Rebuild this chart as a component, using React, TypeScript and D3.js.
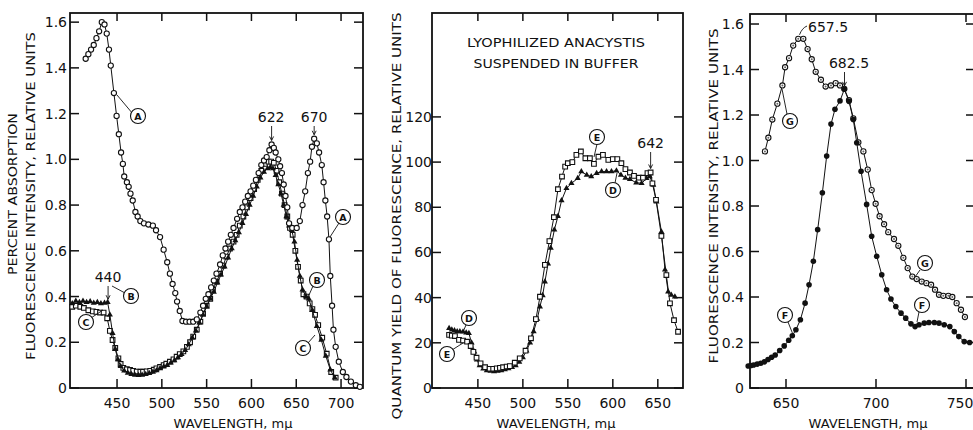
import React from 'react';
import * as d3 from 'd3';

type Pt = [number, number];

// ---- left panel: absorption (A) and fluorescence excitation (B, C) ----
const curveA: Pt[] = [
  [415, 1.44], [418, 1.46], [421, 1.48], [424, 1.5], [427, 1.53], [430, 1.56], [433, 1.6], [436, 1.59],
  [438.5, 1.55], [441, 1.48], [443, 1.41], [446.5, 1.29], [449.5, 1.19], [452, 1.11], [454.5, 1.03],
  [456.5, 0.98], [458, 0.925], [461, 0.9], [463, 0.88], [465, 0.85], [467.5, 0.82], [470.5, 0.77],
  [473, 0.75], [476, 0.73], [480, 0.72], [485, 0.715], [490, 0.71], [493.5, 0.69], [498, 0.66],
  [502, 0.605], [506, 0.55], [509, 0.5], [512, 0.455], [515, 0.415], [517, 0.378], [520, 0.337],
  [523, 0.293], [527, 0.29], [531, 0.29], [535, 0.29], [539, 0.3], [543, 0.33], [546, 0.36], [549, 0.39],
  [552, 0.41], [555, 0.44], [558, 0.47], [561, 0.5], [565, 0.54], [568, 0.58], [571, 0.61], [574, 0.64],
  [577, 0.67], [580, 0.7], [584, 0.74], [587, 0.77], [590, 0.79], [593, 0.815], [596, 0.84], [599, 0.86],
  [602, 0.885], [605, 0.91], [608, 0.94], [611, 0.975], [614, 0.995], [617, 1.01], [620, 1.04],
  [622.5, 1.065], [625, 1.05], [627, 1.03], [630, 1.0], [632, 0.97], [634, 0.94], [636, 0.89], [638, 0.84],
  [640, 0.79], [642, 0.72], [645.5, 0.7], [650.5, 0.7], [654, 0.73], [657, 0.8], [660, 0.86], [663, 0.94],
  [665.5, 0.99], [667.5, 1.055], [670, 1.09], [673, 1.07], [675.5, 1.03], [678.5, 0.975], [680.5, 0.9],
  [682.5, 0.82], [684.5, 0.75], [686.5, 0.65], [688, 0.49], [690, 0.36], [691.5, 0.255], [694, 0.18],
  [697.5, 0.115], [702, 0.07], [706, 0.048], [711, 0.028], [716.5, 0.012], [721, 0.005],
];

const curveB: Pt[] = [
  [400, 0.37], [404, 0.38], [408, 0.375], [412, 0.38], [416, 0.375], [420, 0.378], [424, 0.372],
  [428, 0.375], [432, 0.37], [436, 0.372], [439.5, 0.375], [442, 0.32], [445, 0.24], [448, 0.17],
  [451, 0.125], [454, 0.095], [458, 0.075], [462, 0.066], [466, 0.06], [470, 0.057], [474, 0.056],
  [478, 0.057], [482, 0.06], [486, 0.065], [490, 0.07], [494, 0.077], [498, 0.085], [502, 0.093],
  [506, 0.1], [510, 0.11], [514, 0.12], [518, 0.133], [522, 0.148], [526, 0.165], [530, 0.19],
  [534, 0.22], [538, 0.25], [542, 0.285], [546, 0.32], [550, 0.355], [554, 0.39], [558, 0.42],
  [562, 0.46], [566, 0.495], [570, 0.53], [574, 0.57], [578, 0.61], [582, 0.645], [586, 0.68],
  [590, 0.72], [594, 0.76], [598, 0.8], [602, 0.84], [606, 0.88], [610, 0.92], [614, 0.945],
  [618, 0.96], [621, 0.965], [624, 0.96], [627, 0.93], [630, 0.89], [633, 0.85], [636, 0.8],
  [639, 0.75], [642, 0.71], [645, 0.69], [648, 0.64], [651, 0.56], [654, 0.49], [657, 0.43],
  [661, 0.4], [664, 0.39], [668, 0.34], [673, 0.27], [678, 0.21], [683, 0.14], [688, 0.08], [693, 0.045],
];

const curveC: Pt[] = [
  [400, 0.355], [404, 0.36], [409, 0.355], [413, 0.35], [418, 0.34], [423, 0.335], [427, 0.333],
  [431, 0.33], [435, 0.33], [439, 0.305], [442, 0.25], [445, 0.21], [448, 0.175], [451.5, 0.13],
  [454, 0.105], [457, 0.088], [461, 0.082], [464.5, 0.079], [468, 0.075], [472, 0.072], [476, 0.071],
  [479, 0.071], [483, 0.073], [487, 0.075], [491, 0.08], [494, 0.086], [498, 0.092], [502, 0.1],
  [505, 0.106], [509, 0.115], [513, 0.125], [516.5, 0.137], [520, 0.148], [524, 0.16], [528, 0.18],
  [531.5, 0.2], [535, 0.225], [539, 0.255], [543, 0.29], [546, 0.325], [550, 0.36], [554, 0.39],
  [557, 0.43], [561, 0.465], [565, 0.5], [568.5, 0.535], [572, 0.575], [576, 0.61], [580, 0.64],
  [583.5, 0.67], [587, 0.71], [591, 0.75], [595, 0.79], [599, 0.83], [603, 0.87], [607, 0.91],
  [611, 0.95], [615, 0.98], [619, 0.99], [622, 0.99], [625, 0.985], [628, 0.95], [631, 0.9],
  [634, 0.85], [637, 0.8], [640, 0.75], [643, 0.7], [646, 0.67], [649, 0.6], [652, 0.53], [655, 0.47],
  [658, 0.41], [661.5, 0.4], [665, 0.37], [668, 0.345], [671, 0.32], [674.5, 0.275], [679, 0.22],
  [684, 0.15], [689, 0.07], [694, 0.045],
];

// ---- middle panel: quantum yield (D, E) ----
const curveD: Pt[] = [
  [418, 26.4], [421, 25.8], [424, 25.4], [427, 25], [430, 25], [433.5, 24.9], [437, 24.5], [440, 24.2],
  [443, 20], [446, 16], [449, 12.5], [452, 10], [456, 8.5], [460, 7.8], [464, 7.5], [468, 7.3],
  [472, 7.5], [476, 7.8], [480, 8.2], [484, 8.6], [488, 9.2], [492, 10], [496, 11.5], [500, 13.5],
  [504, 16.5], [508, 20], [512, 25], [516, 30.5], [519, 36], [522, 41], [524.5, 47], [528, 55],
  [531, 62], [535, 70], [539, 76], [543, 83], [548.5, 88.4], [554, 90.6], [561, 92.8], [565, 95.8],
  [571, 94.3], [576, 93.6], [582, 95.1], [587.5, 95.8], [593, 95.8], [598.5, 95.8], [604, 96.2],
  [609, 94.3], [614, 93], [619, 92.4], [626, 90.9], [632, 90.6], [637.5, 92.8], [641, 93.6],
  [645, 89.9], [648.5, 82.5], [654, 69.2], [658, 52.3], [661.5, 42.6], [665, 41.2], [669, 40.4],
];

const curveE: Pt[] = [
  [418, 23.5], [421, 23.2], [424.5, 23], [429, 21.3], [433.5, 21], [438, 20.5], [442, 18.6], [445, 16],
  [448.5, 13.4], [453, 10.9], [458, 9.2], [463, 8.5], [467, 8.5], [471, 8.7], [474.5, 8.9], [478, 9.2],
  [482, 9.5], [485.5, 9.7], [491, 11.2], [496.5, 13.1], [503, 16.5], [509, 22], [514.5, 30.5],
  [519, 40.4], [524.5, 54.5], [529.5, 65], [534.5, 75.6], [539, 88], [543.5, 93.6], [547, 98],
  [550, 99.5], [555, 100], [559.5, 103.2], [564.5, 104.7], [569.5, 101.7], [574.5, 101.7], [579, 99.2],
  [584, 102.4], [589, 103.2], [595, 101], [600, 101.3], [605, 101.3], [609.5, 99.5], [614, 96.9],
  [619, 95.4], [623.5, 93.9], [629, 93.1], [633.5, 93.1], [638.5, 95.1], [642, 95.4], [644, 90.6],
  [648, 83.3], [654, 67.3], [659.5, 50], [663.5, 37.5], [668, 30], [672.5, 24.9],
];

// ---- right panel: fluorescence emission (F, G) ----
const curveF: Pt[] = [
  [629, 0.097], [630.5, 0.099], [632, 0.101], [634, 0.105], [636, 0.109], [638, 0.115], [640, 0.125],
  [642, 0.135], [644, 0.145], [646.5, 0.165], [649, 0.185], [651.5, 0.21], [653.5, 0.23], [655.5, 0.256],
  [658, 0.3], [660.6, 0.373], [662.8, 0.454], [665.2, 0.557], [667.6, 0.696], [670.2, 0.858],
  [672.6, 1.02], [675, 1.16], [677.2, 1.225], [680, 1.262], [682.4, 1.313], [685, 1.26], [687.4, 1.18],
  [689.3, 1.078], [691.7, 0.953], [694.8, 0.807], [697.6, 0.667], [700.4, 0.579], [703.2, 0.498],
  [705.9, 0.432], [708.3, 0.391], [711, 0.358], [713.9, 0.329], [716.5, 0.307], [719.4, 0.282],
  [721.7, 0.27], [723.9, 0.278], [726.8, 0.285], [729.4, 0.288], [732.4, 0.288], [735, 0.285],
  [737.9, 0.278], [741, 0.27], [743.5, 0.248], [746, 0.226], [749, 0.204], [752, 0.2],
];

const curveG: Pt[] = [
  [638.3, 1.04], [640.2, 1.1], [642.4, 1.18], [645.2, 1.25], [648, 1.33], [649.5, 1.41], [651.7, 1.45],
  [654, 1.505], [656.8, 1.535], [659.6, 1.535], [662, 1.49], [664.3, 1.445], [666.5, 1.39],
  [669.4, 1.355], [672, 1.325], [675, 1.33], [677.6, 1.34], [680, 1.33], [682.4, 1.315], [685, 1.265],
  [687.4, 1.185], [690.2, 1.08], [693, 1.04], [695.4, 0.96], [697.6, 0.87], [699.8, 0.81], [702, 0.755],
  [704.5, 0.72], [706.8, 0.685], [710, 0.655], [712.4, 0.625], [715.2, 0.572], [717.6, 0.527],
  [720.2, 0.49], [722.6, 0.479], [725.4, 0.468], [728, 0.461], [730.6, 0.454], [732.8, 0.432],
  [735, 0.41], [737.4, 0.405], [740.2, 0.405], [742.4, 0.4], [744.8, 0.373], [747.2, 0.344], [749.4, 0.312],
];

const leftXTicks = [450, 500, 550, 600, 650, 700];
const leftYTicks = [0, 0.2, 0.4, 0.6, 0.8, 1.0, 1.2, 1.4, 1.6];
const midXTicks = [450, 500, 550, 600, 650];
const midYTicks = [0, 20, 40, 60, 80, 100, 120];
const rightXTicks = [650, 700, 750];
const rightYTicks = [0, 0.2, 0.4, 0.6, 0.8, 1.0, 1.2, 1.4, 1.6];

const W = 973;
const FONT = '"DejaVu Sans", sans-serif';
const INK = '#111';

type Scale = d3.ScaleLinear<number, number>;
type Shape = 'circle' | 'dotcircle' | 'square' | 'triangle' | 'disc';

const fmtY = (v: number) => (v === 0 ? '0' : d3.format('.1f')(v));

function Axes({ x, y, xTicks, yTicks, yFmt, labelInset }: {
  x: Scale; y: Scale; xTicks: number[]; yTicks: number[]; yFmt: (v: number) => string; labelInset: number;
}) {
  const [x0, x1] = x.range();
  const [y1, y0] = y.range();
  return (
    <g stroke={INK}>
      <rect x={x0} y={y0} width={x1 - x0} height={y1 - y0} fill="none" strokeWidth={1.8} />
      {xTicks.map((t) => (
        <g key={'x' + t}>
          <line x1={x(t)} x2={x(t)} y1={y1} y2={y1 - 9} strokeWidth={1.5} />
          <line x1={x(t)} x2={x(t)} y1={y0} y2={y0 + 8} strokeWidth={1.5} />
          {/* keep the last label inside the picture edge */}
          <text x={Math.min(x(t), W - 13)} y={408} textAnchor="middle" stroke="none" fill={INK}
            fontFamily={FONT} fontSize={14}>{t}</text>
        </g>
      ))}
      {yTicks.map((t) => (
        <g key={'y' + t}>
          <line x1={x0} x2={x0 + 9} y1={y(t)} y2={y(t)} strokeWidth={1.5} />
          <line x1={x1} x2={x1 - 9} y1={y(t)} y2={y(t)} strokeWidth={1.5} />
          <text x={x0 - labelInset} y={y(t) + 5} textAnchor="end" stroke="none" fill={INK}
            fontFamily={FONT} fontSize={14}>{yFmt(t)}</text>
        </g>
      ))}
    </g>
  );
}

function Series({ data, x, y, shape }: { data: Pt[]; x: Scale; y: Scale; shape: Shape }) {
  const line = d3.line<Pt>().x((d) => x(d[0])).y((d) => y(d[1]));
  const tri = d3.symbol(d3.symbolTriangle, 16)() || '';
  const sq = d3.symbol(d3.symbolSquare, 22)() || '';
  return (
    <g>
      <path d={line(data) || ''} fill="none" stroke={INK} strokeWidth={1} />
      {data.map((d, i) => {
        const cx = x(d[0]);
        const cy = y(d[1]);
        if (shape === 'triangle')
          return <path key={i} d={tri} transform={`translate(${cx},${cy})`} fill={INK} />;
        if (shape === 'square')
          return <path key={i} d={sq} transform={`translate(${cx},${cy})`} fill="#fff" stroke={INK} strokeWidth={1.1} />;
        if (shape === 'disc') return <circle key={i} cx={cx} cy={cy} r={2.8} fill={INK} />;
        return (
          <g key={i}>
            <circle cx={cx} cy={cy} r={2.6} fill="#fff" stroke={INK} strokeWidth={1.1} />
            {shape === 'dotcircle' && <circle cx={cx} cy={cy} r={1} fill="#666" />}
          </g>
        );
      })}
    </g>
  );
}

function Tag({ cx, cy, label, from, to }: { cx: number; cy: number; label: string; from: Pt; to: Pt }) {
  return (
    <g>
      <line x1={from[0]} y1={from[1]} x2={to[0]} y2={to[1]} stroke={INK} strokeWidth={0.9} />
      <circle cx={cx} cy={cy} r={7.5} fill="#fff" stroke={INK} strokeWidth={1.1} />
      <text x={cx} y={cy + 3.5} textAnchor="middle" fontFamily={FONT} fontSize={9.5}
        fontWeight="bold" fill={INK}>{label}</text>
    </g>
  );
}

function PeakLabel({ x, y, text, tipY, lineX, anchor = 'middle' }: {
  x: number; y: number; text: string; tipY: number; lineX: number; anchor?: string;
}) {
  return (
    <g>
      <text x={x} y={y} textAnchor={anchor} fontFamily={FONT} fontSize={14} fill={INK}>{text}</text>
      <line x1={lineX} x2={lineX} y1={y + 4} y2={tipY} stroke={INK} strokeWidth={0.9} />
      <path d={`M${lineX - 2},${tipY - 4}L${lineX},${tipY}L${lineX + 2},${tipY - 4}`} fill="none" stroke={INK} strokeWidth={0.9} />
    </g>
  );
}

function VLabel({ x, y, text, len }: { x: number; y: number; text: string; len: number }) {
  return (
    <text transform={`translate(${x},${y}) rotate(-90)`} textAnchor="middle" fontFamily={FONT}
      fontSize={13} fill={INK} textLength={len} lengthAdjust="spacingAndGlyphs">{text}</text>
  );
}

export default function App() {
  const leftX = d3.scaleLinear().domain([397.5, 724.5]).range([70, 363]);
  const leftY = d3.scaleLinear().domain([0, 1.64]).range([388, 13]);
  const midX = d3.scaleLinear().domain([399, 678]).range([432, 683]);
  const midY = d3.scaleLinear().domain([0, 166]).range([388, 13]);
  const rightX = d3.scaleLinear().domain([630, 755]).range([750, 975]);
  const rightY = d3.scaleLinear().domain([0, 1.644]).range([388, 14]);

  return (
    <svg width={W} height={430} style={{ position: 'absolute', left: 0, top: 0, background: '#fff' }}>
      <rect width={W} height={430} fill="#fff" />

      {/* left panel */}
      <Axes x={leftX} y={leftY} xTicks={leftXTicks} yTicks={leftYTicks} yFmt={fmtY} labelInset={3} />
      <Series data={curveC} x={leftX} y={leftY} shape="square" />
      <Series data={curveB} x={leftX} y={leftY} shape="triangle" />
      <Series data={curveA} x={leftX} y={leftY} shape="circle" />
      <PeakLabel x={leftX(622)} y={122} text="622" lineX={leftX(622.5)} tipY={leftY(1.065) - 4} />
      <PeakLabel x={leftX(670)} y={122} text="670" lineX={leftX(670)} tipY={leftY(1.09) - 4} />
      <PeakLabel x={leftX(440)} y={282} text="440" lineX={leftX(440)} tipY={leftY(0.375) - 3} />
      <Tag cx={138} cy={116} label="A" from={[133, 114]} to={[117, 95]} />
      <Tag cx={343} cy={217} label="A" from={[339, 223]} to={[330, 237]} />
      <Tag cx={131} cy={296} label="B" from={[125, 293]} to={[112, 286]} />
      <Tag cx={317} cy={280} label="B" from={[313, 286]} to={[309, 295]} />
      <Tag cx={86} cy={322} label="C" from={[91, 318]} to={[103, 310]} />
      <Tag cx={303} cy={348} label="C" from={[308, 343]} to={[315, 335]} />
      <VLabel x={17} y={194} text="PERCENT ABSORPTION" len={162} />
      <VLabel x={35} y={196} text="FLUORESCENCE INTENSITY, RELATIVE UNITS" len={328} />
      <text x={233} y={428} textAnchor="middle" fontFamily={FONT} fontSize={13} fill={INK}>WAVELENGTH, mμ</text>

      {/* middle panel */}
      <Axes x={midX} y={midY} xTicks={midXTicks} yTicks={midYTicks} yFmt={(v) => String(v)} labelInset={0} />
      <Series data={curveD} x={midX} y={midY} shape="triangle" />
      <Series data={curveE} x={midX} y={midY} shape="square" />
      <text x={556} y={47} textAnchor="middle" fontFamily={FONT} fontSize={13} fill={INK}
        textLength={178} lengthAdjust="spacingAndGlyphs">LYOPHILIZED ANACYSTIS</text>
      <text x={556} y={68} textAnchor="middle" fontFamily={FONT} fontSize={13} fill={INK}
        textLength={165} lengthAdjust="spacingAndGlyphs">SUSPENDED IN BUFFER</text>
      <PeakLabel x={midX(642)} y={148} text="642" lineX={midX(642)} tipY={midY(95.4) - 4} />
      <Tag cx={597} cy={137} label="E" from={[597, 144]} to={[594, 157]} />
      <Tag cx={613} cy={190} label="D" from={[615, 183]} to={[617, 173]} />
      <Tag cx={469} cy={318} label="D" from={[466, 325]} to={[463, 332]} />
      <Tag cx={447} cy={354} label="E" from={[452, 350]} to={[463, 343]} />
      <VLabel x={401} y={216} text="QUANTUM YIELD OF FLUORESCENCE, RELATIVE UNITS" len={407} />
      <text x={556} y={428} textAnchor="middle" fontFamily={FONT} fontSize={13} fill={INK}>WAVELENGTH, mμ</text>

      {/* right panel */}
      <Axes x={rightX} y={rightY} xTicks={rightXTicks} yTicks={rightYTicks} yFmt={fmtY} labelInset={6} />
      <Series data={curveG} x={rightX} y={rightY} shape="dotcircle" />
      <Series data={curveF} x={rightX} y={rightY} shape="disc" />
      <text x={808} y={32} fontFamily={FONT} fontSize={14} fill={INK}>657.5</text>
      <path d={`M807,26 Q802,28 ${rightX(657.5)},${rightY(1.535) - 4}`} fill="none" stroke={INK} strokeWidth={0.9} />
      <PeakLabel x={849} y={68} text="682.5" lineX={rightX(682.5)} tipY={rightY(1.315) - 3} />
      <Tag cx={790} cy={121} label="G" from={[787, 114]} to={[782, 89]} />
      <Tag cx={925} cy={263} label="G" from={[920, 270]} to={[915, 277]} />
      <Tag cx={785} cy={315} label="F" from={[788, 322]} to={[794, 337]} />
      <Tag cx={922} cy={305} label="F" from={[919, 312]} to={[917, 322]} />
      <VLabel x={718} y={196} text="FLUORESCENCE INTENSITY, RELATIVE UNITS" len={335} />
      <text x={868} y={428} textAnchor="middle" fontFamily={FONT} fontSize={13} fill={INK}>WAVELENGTH, mμ</text>
    </svg>
  );
}
